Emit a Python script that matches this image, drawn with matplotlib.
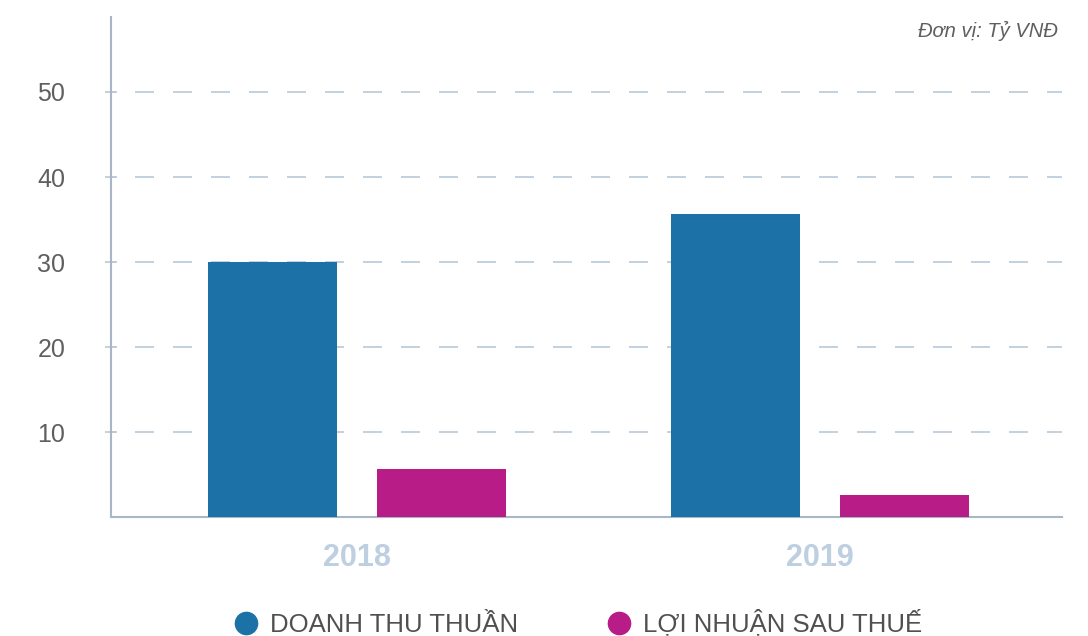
import matplotlib
matplotlib.use("Agg")
import matplotlib.pyplot as plt
import numpy as np
from matplotlib.lines import Line2D

years = ["2018", "2019"]
doanh_thu = [30.0, 35.6]
loi_nhuan = [5.6, 2.6]
series_names = ["DOANH THU THUẦN", "LỢI NHUẬN SAU THUẾ"]
y_ticks = [10, 20, 30, 40, 50]

blue = "#1c72a7"
pink = "#b81c86"
grid_col = "#b9c9da"
spine_col = "#a8b6c6"

plt.rcParams['font.family'] = ['Liberation Sans', 'DejaVu Sans']

fig = plt.figure(figsize=(10.88, 6.36), dpi=100)
ax = fig.add_axes([0.102, 0.187, 0.874, 0.786])

x = np.arange(len(years))
w = 0.279
off = 0.1825
ax.bar(x - off, doanh_thu, w, color=blue, zorder=3)
ax.bar(x + off, loi_nhuan, w, color=pink, zorder=3)

ax.set_xlim(-0.531, 1.523)
ax.set_ylim(0, 58.8)
ax.set_yticks(y_ticks)
ax.set_xticks(x)
ax.set_xticklabels(years)

# dashes ~19px on / 19px off
ax.grid(axis='y', color=grid_col, linestyle=(8.4, (11.4, 11.4)), linewidth=1.2, zorder=0)
ax.set_axisbelow(True)

for s in ["top", "right"]:
    ax.spines[s].set_visible(False)
for s in ["left", "bottom"]:
    ax.spines[s].set_color(spine_col)
    ax.spines[s].set_linewidth(1.5)

ax.tick_params(axis='y', length=8, direction='inout', color=grid_col, width=1.2,
               labelsize=18, labelcolor="#5f5f5f", pad=29)
ax.tick_params(axis='x', length=0, pad=19)
for lbl in ax.get_xticklabels():
    lbl.set_fontsize(22)
    lbl.set_fontweight('bold')
    lbl.set_color("#bdcfe0")

fig.text(0.972, 0.952, "Đơn vị: Tỷ VNĐ", ha='right', va='center',
         fontsize=14.5, style='italic', color="#5f5f5f")

handles = [Line2D([], [], marker='o', linestyle='', markersize=16, color=blue),
           Line2D([], [], marker='o', linestyle='', markersize=16, color=pink)]
fig.legend(handles, series_names, loc='center', bbox_to_anchor=(0.531, 0.02),
           ncol=2, frameon=False, fontsize=18.5, labelcolor="#505050",
           handlelength=1.0, handletextpad=0.45, columnspacing=3.4)

fig.savefig("out.png", dpi=100)
